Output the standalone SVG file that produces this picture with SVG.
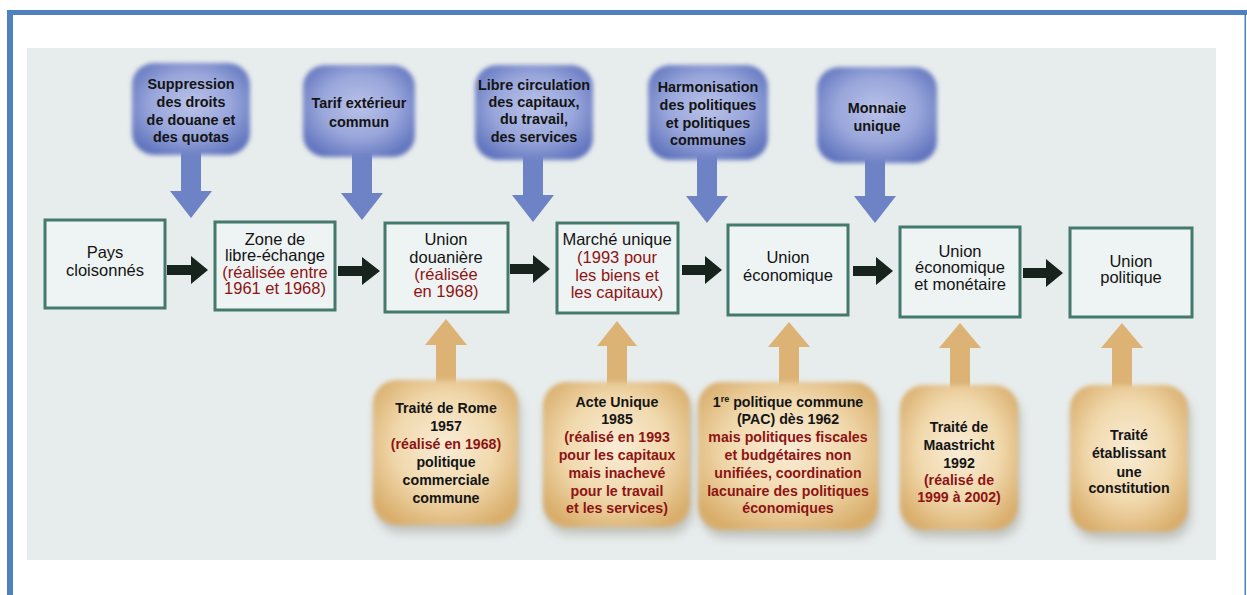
<svg xmlns="http://www.w3.org/2000/svg" width="1247" height="595" viewBox="0 0 1247 595">
<defs>
<style>
text{font-family:"Liberation Sans",Arial,sans-serif;text-anchor:middle;fill:#141414}
.tb{font-size:14.4px;font-weight:bold}
.tg{font-size:16.5px}
.to{font-size:14.2px;font-weight:bold}
.red{fill:#8e1414}
.gbox{fill:#eef3f3;stroke:#44796d;stroke-width:3}
.bluearr{fill:#6d83c6}
.orarr{fill:#dcb374}
.blkarr{fill:#17241d}
</style>
<radialGradient id="gBlue" cx="0.5" cy="0.45" r="0.62">
<stop offset="0" stop-color="#b9c2e8"/>
<stop offset="0.55" stop-color="#99a6db"/>
<stop offset="1" stop-color="#6074bd"/>
</radialGradient>
<radialGradient id="gOr" cx="0.5" cy="0.45" r="0.62">
<stop offset="0" stop-color="#f8ecd6"/>
<stop offset="0.55" stop-color="#f1d9ad"/>
<stop offset="1" stop-color="#d9ae6c"/>
</radialGradient>
<filter id="soft" x="-10%" y="-10%" width="120%" height="120%">
<feGaussianBlur stdDeviation="2"/>
</filter>
<filter id="shadow" x="-15%" y="-15%" width="130%" height="140%">
<feGaussianBlur stdDeviation="5"/>
</filter>
</defs>

<rect x="0" y="0" width="1247" height="595" fill="#ffffff"/>
<rect x="27" y="48" width="1189" height="512" fill="#e7ecec"/>
<!-- frame -->
<rect x="7" y="10" width="1240" height="5" fill="#4f81bd"/>
<rect x="7" y="10" width="6" height="585" fill="#4f81bd"/>
<rect x="1244.5" y="10" width="1.5" height="585" fill="#4f81bd"/>

<g id="connectors">
<!-- blue down arrows -->
<path class="bluearr" d="M181,150 H201 V191 H212 L191,218 L170,191 H181 Z"/>
<path class="bluearr" d="M352,152 H372 V193 H383 L362,220 L341,193 H352 Z"/>
<path class="bluearr" d="M523,155 H543 V195 H554 L533,222 L512,195 H523 Z"/>
<path class="bluearr" d="M697,155 H717 V196 H728 L707,223 L686,196 H697 Z"/>
<path class="bluearr" d="M865,158 H885 V196 H896 L875,223 L854,196 H865 Z"/>
<!-- black horizontal arrows -->
<path class="blkarr" d="M167,265 H191 V256 L208,270 L191,284 V275 H167 Z"/>
<path class="blkarr" d="M338,266 H362 V257 L380,271 L362,285 V276 H338 Z"/>
<path class="blkarr" d="M510,264 H533 V255 L550,269 L533,283 V274 H510 Z"/>
<path class="blkarr" d="M682,265 H705 V256 L722,270 L705,284 V275 H682 Z"/>
<path class="blkarr" d="M853,266 H876 V257 L893,271 L876,285 V276 H853 Z"/>
<path class="blkarr" d="M1023,268 H1046 V259 L1063,273 L1046,287 V278 H1023 Z"/>
<!-- orange up arrows -->
<path class="orarr" d="M436,385 V345 H425 L446,319 L467,345 H456 V385 Z"/>
<path class="orarr" d="M607,387 V346 H597 L617,321 L637,346 H627 V387 Z"/>
<path class="orarr" d="M779,387 V347 H768 L789,322 L810,347 H799 V387 Z"/>
<path class="orarr" d="M950,390 V348 H939 L960,323 L981,348 H970 V390 Z"/>
<path class="orarr" d="M1112,390 V348 H1101 L1122,323 L1143,348 H1132 V390 Z"/>
</g>

<!-- blue top nodes -->
<g id="b1">
<rect x="132" y="63" width="118" height="92" rx="22" fill="url(#gBlue)" filter="url(#soft)"/>
<text class="tb" x="191" y="89">Suppression</text>
<text class="tb" x="191" y="107">des droits</text>
<text class="tb" x="191" y="125">de douane et</text>
<text class="tb" x="191" y="142">des quotas</text>
</g>
<g id="b2">
<rect x="303" y="65" width="112" height="92" rx="22" fill="url(#gBlue)" filter="url(#soft)"/>
<text class="tb" x="359" y="108">Tarif extérieur</text>
<text class="tb" x="359" y="127">commun</text>
</g>
<g id="b3">
<rect x="475" y="65" width="118" height="95" rx="22" fill="url(#gBlue)" filter="url(#soft)"/>
<text class="tb" x="534" y="90">Libre circulation</text>
<text class="tb" x="534" y="107">des capitaux,</text>
<text class="tb" x="534" y="124">du travail,</text>
<text class="tb" x="534" y="142">des services</text>
</g>
<g id="b4">
<rect x="648" y="65" width="120" height="95" rx="22" fill="url(#gBlue)" filter="url(#soft)"/>
<text class="tb" x="708" y="92">Harmonisation</text>
<text class="tb" x="708" y="110">des politiques</text>
<text class="tb" x="708" y="128">et politiques</text>
<text class="tb" x="708" y="145">communes</text>
</g>
<g id="b5">
<rect x="817" y="67" width="120" height="96" rx="22" fill="url(#gBlue)" filter="url(#soft)"/>
<text class="tb" x="877" y="113">Monnaie</text>
<text class="tb" x="877" y="131">unique</text>
</g>

<!-- green middle nodes -->
<g id="g1">
<rect class="gbox" x="45" y="220" width="120" height="88"/>
<text class="tg" x="105" y="258">Pays</text>
<text class="tg" x="105" y="276">cloisonnés</text>
</g>
<g id="g2">
<rect class="gbox" x="215" y="222" width="120" height="88"/>
<text class="tg" x="275" y="245">Zone de</text>
<text class="tg" x="275" y="261">libre-échange</text>
<text class="tg red" x="275" y="278">(réalisée entre</text>
<text class="tg red" x="275" y="294">1961 et 1968)</text>
</g>
<g id="g3">
<rect class="gbox" x="385" y="223" width="123" height="89"/>
<text class="tg" x="446" y="245">Union</text>
<text class="tg" x="446" y="263">douanière</text>
<text class="tg red" x="446" y="280">(réalisée</text>
<text class="tg red" x="446" y="297">en 1968)</text>
</g>
<g id="g4">
<rect class="gbox" x="557" y="223" width="121" height="90"/>
<text class="tg" x="617" y="245">Marché unique</text>
<text class="tg red" x="617" y="263">(1993 pour</text>
<text class="tg red" x="617" y="281">les biens et</text>
<text class="tg red" x="617" y="298">les capitaux)</text>
</g>
<g id="g5">
<rect class="gbox" x="728" y="225" width="120" height="90"/>
<text class="tg" x="788" y="263">Union</text>
<text class="tg" x="788" y="281">économique</text>
</g>
<g id="g6">
<rect class="gbox" x="900" y="227" width="120" height="90"/>
<text class="tg" x="960" y="257">Union</text>
<text class="tg" x="960" y="273">économique</text>
<text class="tg" x="960" y="290">et monétaire</text>
</g>
<g id="g7">
<rect class="gbox" x="1070" y="228" width="122" height="89"/>
<text class="tg" x="1131" y="267">Union</text>
<text class="tg" x="1131" y="283">politique</text>
</g>

<!-- orange bottom nodes -->
<g id="o1">
<rect x="376" y="388" width="145" height="145" rx="24" fill="#8a8a80" opacity="0.4" filter="url(#shadow)"/>
<rect x="373" y="380" width="145" height="145" rx="24" fill="url(#gOr)" filter="url(#soft)"/>
<text class="to" x="446" y="413">Traité de Rome</text>
<text class="to" x="446" y="431">1957</text>
<text class="to red" x="446" y="449">(réalisé en 1968)</text>
<text class="to" x="446" y="467">politique</text>
<text class="to" x="446" y="485">commerciale</text>
<text class="to" x="446" y="503">commune</text>
</g>
<g id="o2">
<rect x="546" y="390" width="147" height="145" rx="24" fill="#8a8a80" opacity="0.4" filter="url(#shadow)"/>
<rect x="543" y="382" width="147" height="145" rx="24" fill="url(#gOr)" filter="url(#soft)"/>
<text class="to" x="617" y="407">Acte Unique</text>
<text class="to" x="617" y="424">1985</text>
<text class="to red" x="617" y="442">(réalisé en 1993</text>
<text class="to red" x="617" y="460">pour les capitaux</text>
<text class="to red" x="617" y="478">mais inachevé</text>
<text class="to red" x="617" y="496">pour le travail</text>
<text class="to red" x="617" y="513">et les services)</text>
</g>
<g id="o3">
<rect x="701" y="390" width="180" height="148" rx="24" fill="#8a8a80" opacity="0.4" filter="url(#shadow)"/>
<rect x="698" y="382" width="180" height="148" rx="24" fill="url(#gOr)" filter="url(#soft)"/>
<text class="to" x="788" y="407">1<tspan font-size="9" dy="-5">re</tspan><tspan dy="5"> politique commune</tspan></text>
<text class="to" x="788" y="424">(PAC) dès 1962</text>
<text class="to red" x="788" y="442">mais politiques fiscales</text>
<text class="to red" x="788" y="460">et budgétaires non</text>
<text class="to red" x="788" y="478">unifiées, coordination</text>
<text class="to red" x="788" y="496">lacunaire des politiques</text>
<text class="to red" x="788" y="513">économiques</text>
</g>
<g id="o4">
<rect x="903" y="393" width="118" height="145" rx="24" fill="#8a8a80" opacity="0.4" filter="url(#shadow)"/>
<rect x="900" y="385" width="118" height="145" rx="24" fill="url(#gOr)" filter="url(#soft)"/>
<text class="to" x="959" y="432">Traité de</text>
<text class="to" x="959" y="450">Maastricht</text>
<text class="to" x="959" y="468">1992</text>
<text class="to red" x="959" y="485">(réalisé de</text>
<text class="to red" x="959" y="502">1999 à 2002)</text>
</g>
<g id="o5">
<rect x="1073" y="393" width="118" height="147" rx="24" fill="#8a8a80" opacity="0.4" filter="url(#shadow)"/>
<rect x="1070" y="385" width="118" height="147" rx="24" fill="url(#gOr)" filter="url(#soft)"/>
<text class="to" x="1129" y="440">Traité</text>
<text class="to" x="1129" y="458">établissant</text>
<text class="to" x="1129" y="477">une</text>
<text class="to" x="1129" y="493">constitution</text>
</g>
</svg>
